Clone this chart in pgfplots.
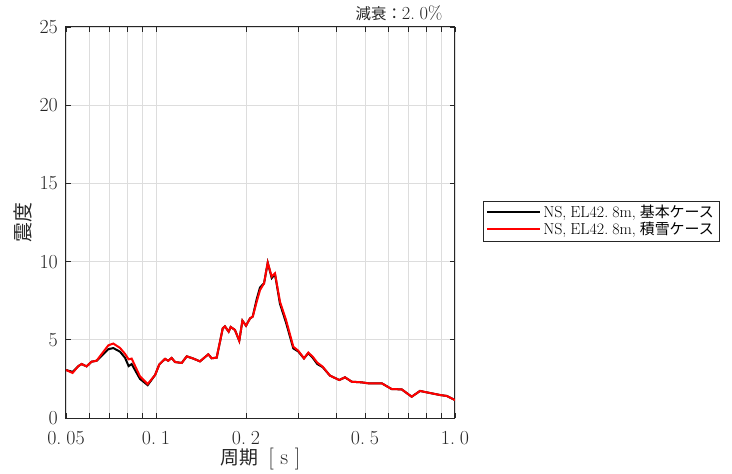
\documentclass[border=0pt]{standalone}
\usepackage{fontspec}
\usepackage{pgfplots}
\pgfplotsset{compat=1.18}
\newfontfamily\cjk{Noto Sans CJK JP}
\definecolor{axgray}{HTML}{262626}
\definecolor{gridgray}{HTML}{DDDDDD}
\newcommand{\gp}{\hspace{0.25em}}
\begin{document}
\begin{tikzpicture}
\begin{axis}[
  at={(0,0)}, anchor=south west,
  scale only axis, width=389bp, height=391bp,
  clip mode=individual,
  xmode=log, xmin=0.05, xmax=1.0, ymin=0, ymax=25,
  log basis x=10,
  xtick={0.05,0.1,0.2,0.5,1.0},
  xticklabels={0.\gp05,0.\gp1,0.\gp2,0.\gp5,1.\gp0},
  minor xtick={0.06,0.07,0.08,0.09,0.3,0.4,0.6,0.7,0.8,0.9},
  ytick={0,5,10,15,20,25},
  yticklabels={0,5,10,15,20,25},
  grid=both,
  major grid style={draw=gridgray, line width=0.9bp},
  minor grid style={draw=gridgray, line width=0.9bp},
  axis line style={draw=axgray, line width=1bp},
  tick style={draw=axgray, line width=0.8bp},
  major tick length=5bp, minor tick length=5bp,
  tick align=inside,
  xtick pos=both, ytick pos=both,
  xticklabel style={font=\fontsize{20}{20}\selectfont, text=axgray, anchor=center, yshift=-20bp},
  yticklabel style={font=\fontsize{20}{20}\selectfont, text=axgray, anchor=east, inner sep=0pt, xshift=-8bp},
  xlabel={{\cjk\fontsize{19}{19}\selectfont 周期}\hspace{0.45em}[\hspace{0.3em}s\hspace{0.3em}]},
  xlabel style={font=\fontsize{22}{22}\selectfont, text=axgray, at={(axis description cs:0.5,-0.105)}, anchor=center},
  ylabel={\cjk 震度},
  ylabel style={font=\fontsize{20}{20}\selectfont, text=axgray, at={(axis description cs:-0.11,0.5)}, anchor=center},
  legend style={at={(axis description cs:1.072,0.504)}, anchor=west, draw=axgray, line width=0.6bp, fill=white, font=\fontsize{16}{18}\selectfont, inner xsep=3bp, inner ysep=2.5bp, row sep=-1bp},
  legend cell align=left,
  legend image code/.code={\draw[#1] (0bp,0bp) -- (53bp,0bp);},
]
\addplot[black, line width=2bp] coordinates {
(0.0500,3.07) (0.0526,2.95) (0.0550,3.32) (0.0564,3.45) (0.0586,3.30) (0.0609,3.60)
(0.0633,3.66) (0.0658,3.98) (0.0693,4.40) (0.0720,4.47) (0.0758,4.24) (0.0788,3.85)
(0.0810,3.32) (0.0829,3.45) (0.0884,2.50) (0.0938,2.10) (0.0993,2.75) (0.1026,3.43)
(0.1072,3.78) (0.1099,3.66) (0.1128,3.84) (0.1158,3.58) (0.1219,3.52) (0.1267,3.94)
(0.1333,3.80) (0.1403,3.62) (0.1496,4.07) (0.1535,3.82) (0.1596,3.86) (0.1672,5.73)
(0.1700,5.86) (0.1750,5.52) (0.1778,5.82) (0.1837,5.63) (0.1899,4.94) (0.1946,6.22)
(0.2000,5.90) (0.2063,6.37) (0.2106,6.48) (0.2172,7.60) (0.2228,8.35) (0.2298,8.61)
(0.2364,9.93) (0.2438,8.95) (0.2500,9.20) (0.2598,7.30) (0.2722,6.10) (0.2879,4.45)
(0.2992,4.25) (0.3126,3.81) (0.3231,4.15) (0.3343,3.85) (0.3463,3.45) (0.3610,3.25)
(0.3818,2.71) (0.4102,2.43) (0.4287,2.60) (0.4514,2.32) (0.4875,2.28) (0.5128,2.22)
(0.5687,2.22) (0.6140,1.85) (0.6635,1.83) (0.7165,1.36) (0.7640,1.73) (0.8043,1.64)
(0.8910,1.47) (0.9380,1.41) (1.0000,1.15)
};
\addlegendentry{NS,\gp EL42.\gp8m,\gp{\cjk\fontsize{15}{18}\selectfont 基本ケース}}
\addplot[red, line width=2bp] coordinates {
(0.0500,3.07) (0.0526,2.88) (0.0550,3.32) (0.0564,3.45) (0.0586,3.30) (0.0609,3.60)
(0.0633,3.66) (0.0658,4.09) (0.0693,4.65) (0.0720,4.76) (0.0758,4.48) (0.0788,4.10)
(0.0810,3.75) (0.0829,3.80) (0.0884,2.66) (0.0938,2.17) (0.0993,2.75) (0.1026,3.43)
(0.1072,3.78) (0.1099,3.66) (0.1128,3.84) (0.1158,3.58) (0.1219,3.52) (0.1267,3.94)
(0.1333,3.80) (0.1403,3.62) (0.1496,4.07) (0.1535,3.82) (0.1596,3.86) (0.1672,5.73)
(0.1700,5.86) (0.1750,5.52) (0.1778,5.82) (0.1837,5.63) (0.1899,4.94) (0.1946,6.22)
(0.2000,5.90) (0.2063,6.37) (0.2106,6.48) (0.2172,7.44) (0.2228,8.18) (0.2298,8.61)
(0.2364,9.93) (0.2438,9.04) (0.2500,9.25) (0.2598,7.44) (0.2722,6.27) (0.2879,4.56)
(0.2992,4.30) (0.3126,3.81) (0.3231,4.18) (0.3343,3.92) (0.3463,3.54) (0.3610,3.28)
(0.3818,2.71) (0.4102,2.43) (0.4287,2.60) (0.4514,2.32) (0.4875,2.28) (0.5128,2.22)
(0.5687,2.22) (0.6140,1.85) (0.6635,1.83) (0.7165,1.36) (0.7640,1.73) (0.8043,1.64)
(0.8910,1.47) (0.9380,1.41) (1.0000,1.15)
};
\addlegendentry{NS,\gp EL42.\gp8m,\gp{\cjk\fontsize{15}{18}\selectfont 積雪ケース}}
\node[text=axgray, anchor=center, inner sep=0pt] at (axis description cs:0.856,1.035) {{\cjk\fontsize{15.5}{15.5}\selectfont 減衰：}{\fontsize{18.5}{18.5}\selectfont 2.\gp0\%}};
\end{axis}
\pgfresetboundingbox
\useasboundingbox (-66bp,-56bp) rectangle (666bp,418bp);
\end{tikzpicture}
\end{document}
